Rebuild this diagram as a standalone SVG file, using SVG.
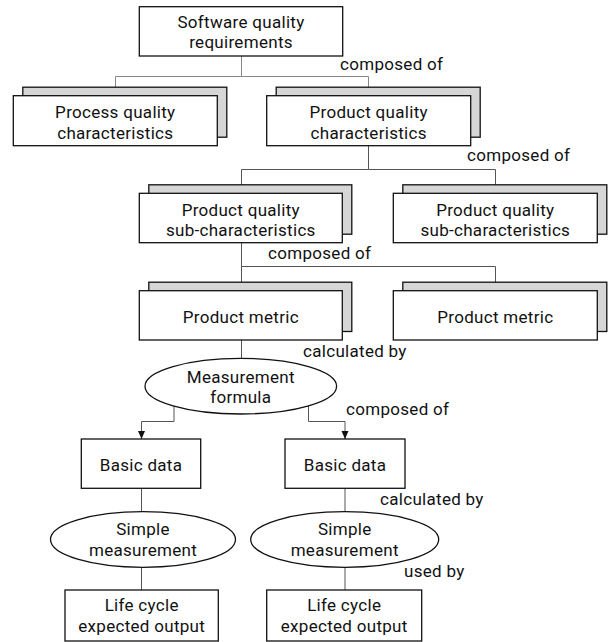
<svg xmlns="http://www.w3.org/2000/svg" width="608" height="642" viewBox="0 0 608 642">
  <defs>
    <marker id="arrow" viewBox="0 0 8 8" refX="8" refY="4" markerWidth="8" markerHeight="8" markerUnits="userSpaceOnUse" orient="auto">
      <path d="M0,0.5 L8,4 L0,7.5 Z" fill="#111"/>
    </marker>
    <style>
      text { font-family: Roboto, "Noto Sans", "Liberation Sans", sans-serif; font-size: 17px; letter-spacing: 0.3px; fill: #111; }
      .c { text-anchor: middle; }
      .box { fill: #fff; stroke: #111; stroke-width: 1.3; }
      .shadow { fill: #d6d6d6; stroke: #111; stroke-width: 1.3; }
      .ell { fill: #fff; stroke: #111; stroke-width: 1.3; }
      .line { fill: none; stroke: #555; stroke-width: 1; }
      .light { stroke: #888; }
      .arr { marker-end: url(#arrow); }
    </style>
  </defs>
  <rect width="608" height="642" fill="#fff"/>

  <!-- connectors -->
  <g id="connectors">
    <path class="line light" d="M241.5,56 V76.5 H115.5"/>
    <path class="line light arr" d="M115.5,76.5 V95.5"/>
    <path class="line light arr" d="M241.5,76.5 H368.5 V95.5"/>

    <path class="line" d="M368.5,145.7 V169.5 H241.5"/>
    <path class="line arr" d="M241.5,169.5 V193.3"/>
    <path class="line arr" d="M368.5,169.5 H495.5 V193.3"/>

    <path class="line" d="M241.5,242.7 V266.5"/>
    <path class="line arr" d="M241.5,266.5 V290.7"/>
    <path class="line arr" d="M241.5,266.5 H495.5 V290.7"/>

    <path class="line" d="M241.5,340 V358.3"/>

    <path class="line arr" d="M174,406 V421.5 H141.5 V439"/>
    <path class="line arr" d="M308.5,406 V421.5 H345 V439"/>

    <path class="line" d="M141.5,488.3 V511.7"/>
    <path class="line" d="M345,488.3 V511.7"/>
    <path class="line" d="M141.5,567.3 V590"/>
    <path class="line" d="M345,567.3 V590"/>
  </g>

  <!-- labels on connectors -->
  <g id="labels">
    <text x="340" y="70">composed of</text>
    <text x="467" y="161">composed of</text>
    <text x="268" y="259">composed of</text>
    <text x="303" y="356.5">calculated by</text>
    <text x="346" y="415">composed of</text>
    <text x="380" y="505">calculated by</text>
    <text x="404" y="576.5">used by</text>
  </g>

  <g id="software-quality-requirements">
    <rect class="box" x="139.3" y="6.7" width="203.4" height="49.3"/>
    <text class="c" x="241" y="27.7">Software quality</text>
    <text class="c" x="241" y="48.3">requirements</text>
  </g>

  <g id="process-quality-characteristics">
    <rect class="shadow" x="22.8" y="87.2" width="204" height="50"/>
    <rect class="box" x="13.3" y="95.7" width="204" height="50"/>
    <text class="c" x="115.3" y="118.3">Process quality</text>
    <text class="c" x="115.3" y="138.6">characteristics</text>
  </g>

  <g id="product-quality-characteristics">
    <rect class="shadow" x="276.2" y="87.2" width="204" height="50"/>
    <rect class="box" x="266.7" y="95.7" width="204" height="50"/>
    <text class="c" x="368.7" y="118.3">Product quality</text>
    <text class="c" x="368.7" y="138.6">characteristics</text>
  </g>

  <g id="sub-characteristics-1">
    <rect class="shadow" x="148.8" y="184.8" width="203" height="49.4"/>
    <rect class="box" x="139.3" y="193.3" width="203" height="49.4"/>
    <text class="c" x="240.8" y="215.8">Product quality</text>
    <text class="c" x="240.8" y="236.2">sub-characteristics</text>
  </g>

  <g id="sub-characteristics-2">
    <rect class="shadow" x="402.8" y="184.8" width="204" height="49.4"/>
    <rect class="box" x="393.3" y="193.3" width="204" height="49.4"/>
    <text class="c" x="495.3" y="215.8">Product quality</text>
    <text class="c" x="495.3" y="236.2">sub-characteristics</text>
  </g>

  <g id="product-metric-1">
    <rect class="shadow" x="148.8" y="282.2" width="203" height="49.3"/>
    <rect class="box" x="139.3" y="290.7" width="203" height="49.3"/>
    <text class="c" x="240.8" y="322.5">Product metric</text>
  </g>

  <g id="product-metric-2">
    <rect class="shadow" x="402.8" y="282.2" width="204" height="49.3"/>
    <rect class="box" x="393.3" y="290.7" width="204" height="49.3"/>
    <text class="c" x="495.3" y="322.5">Product metric</text>
  </g>

  <g id="measurement-formula">
    <ellipse class="ell" cx="240.8" cy="386.2" rx="95.8" ry="27.8"/>
    <text class="c" x="240.8" y="383">Measurement</text>
    <text class="c" x="240.8" y="403.4">formula</text>
  </g>

  <g id="basic-data-1">
    <rect class="box" x="81.3" y="439" width="119.4" height="49.3"/>
    <text class="c" x="141" y="470.5">Basic data</text>
  </g>

  <g id="basic-data-2">
    <rect class="box" x="285" y="439" width="120" height="49.3"/>
    <text class="c" x="345" y="470.5">Basic data</text>
  </g>

  <g id="simple-measurement-1">
    <ellipse class="ell" cx="143" cy="539.5" rx="92.5" ry="27.8"/>
    <text class="c" x="143" y="535">Simple</text>
    <text class="c" x="143" y="556">measurement</text>
  </g>

  <g id="simple-measurement-2">
    <ellipse class="ell" cx="344.7" cy="539.5" rx="94" ry="27.8"/>
    <text class="c" x="344.7" y="535">Simple</text>
    <text class="c" x="344.7" y="556">measurement</text>
  </g>

  <g id="life-cycle-output-1">
    <rect class="box" x="65" y="590" width="153.3" height="51"/>
    <text class="c" x="141.7" y="610.7">Life cycle</text>
    <text class="c" x="141.7" y="631.7">expected output</text>
  </g>

  <g id="life-cycle-output-2">
    <rect class="box" x="266.7" y="590" width="155" height="51"/>
    <text class="c" x="344.2" y="610.7">Life cycle</text>
    <text class="c" x="344.2" y="631.7">expected output</text>
  </g>
</svg>
